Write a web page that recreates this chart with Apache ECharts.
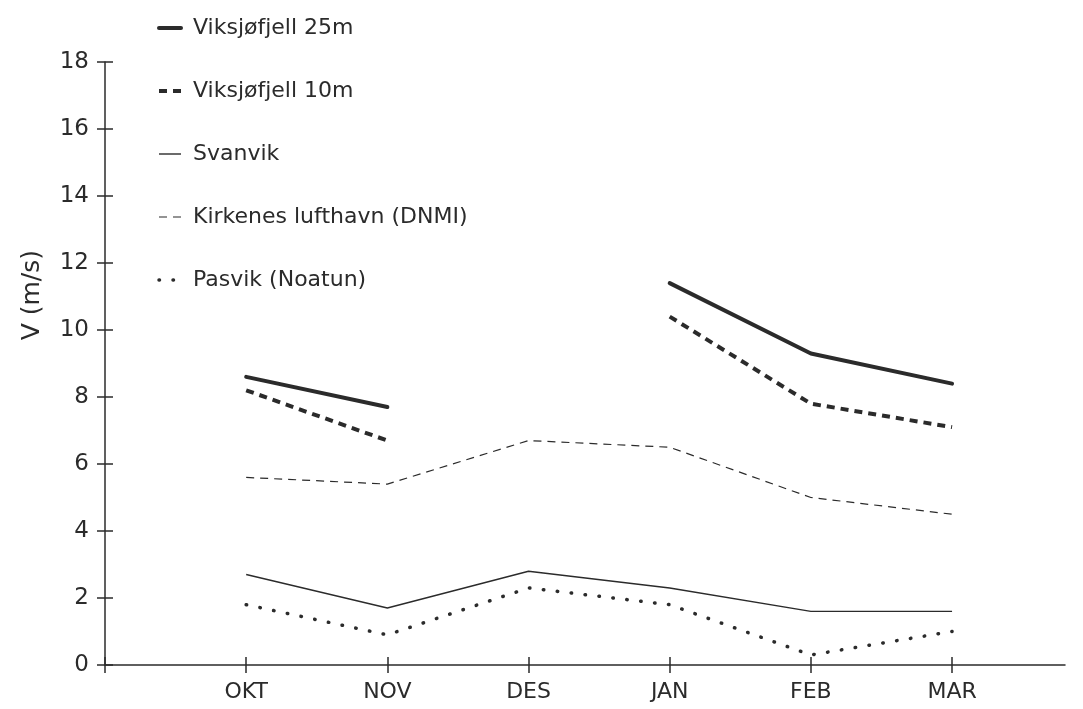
<!DOCTYPE html>
<html>
<head>
<meta charset="utf-8">
<script src="https://cdn.jsdelivr.net/npm/echarts@6/dist/echarts.min.js"></script>
<style>
  html, body { margin: 0; padding: 0; background: #fff; }
  #chart { width: 1083px; height: 709px; }
</style>
</head>
<body>
<div id="chart"></div>
<script>
// måneder (x = 1..6 på verdiaksen)
var months = ["OKT", "NOV", "DES", "JAN", "FEB", "MAR"];
var monthPos = [1, 2, 3, 4, 5, 6];
var yTicks = [0, 2, 4, 6, 8, 10, 12, 14, 16, 18];

// vindhastighet V (m/s)
var viks25 = [8.6, 7.7, null, 11.4, 9.3, 8.4];
var viks10 = [8.2, 6.7, null, 10.4, 7.8, 7.1];
var svanvik = [2.7, 1.7, 2.8, 2.3, 1.6, 1.6];
var kirkenes = [5.6, 5.4, 6.7, 6.5, 5.0, 4.5];
var pasvik = [1.8, 0.9, 2.3, 1.8, 0.3, 1.0];

var FONT = "DejaVu Sans";
var INK = "#2b2b2b";

// linjestiler: [bredde, type, cap]
var styles = {
  "Viksjøfjell 25m": [4, "solid", "round"],
  "Viksjøfjell 10m": [4, [8, 6], "butt"],
  "Svanvik": [1.4, "solid", "butt"],
  "Kirkenes lufthavn (DNMI)": [1.2, [8, 6], "butt"],
  "Pasvik (Noatun)": [3.5, [0.5, 13.5], "round"]
};

function pairs(vals) {
  return vals.map(function (v, i) { return [monthPos[i], v]; });
}

function lineStyleOf(name) {
  var s = styles[name];
  return { color: INK, width: s[0], type: s[1], cap: s[2] };
}

function line(name, vals) {
  return {
    name: name,
    type: "line",
    data: pairs(vals),
    symbol: "none",
    connectNulls: false,
    silent: true,
    color: INK,
    lineStyle: lineStyleOf(name)
  };
}

var chart = echarts.init(document.getElementById("chart"));

var xBase = { type: "value", min: 0, max: 6.8, interval: 1, splitLine: { show: false } };
var yBase = { type: "value", min: 0, max: 18, interval: 2, splitLine: { show: false } };

var legendNames = Object.keys(styles);

chart.setOption({
  backgroundColor: "#fff",
  animation: false,
  grid: { left: 105, right: 18, top: 62, bottom: 44 },
  legend: {
    orient: "vertical",
    left: 152,
    top: 11,
    itemWidth: 22,
    itemHeight: 14,
    itemGap: 39,
    selectedMode: false,
    itemStyle: { opacity: 0 },
    textStyle: { fontFamily: FONT, fontSize: 22, color: INK, lineHeight: 24, padding: [0, 0, 0, 7] },
    data: legendNames.map(function (n) {
      return { name: n, lineStyle: lineStyleOf(n), itemStyle: { opacity: 0 } };
    })
  },
  xAxis: [
    Object.assign({}, xBase, {
      axisLine: { lineStyle: { color: INK, width: 1.5 } },
      axisTick: { show: true, length: 8, customValues: [0].concat(monthPos), lineStyle: { color: INK, width: 1.5 } },
      axisLabel: {
        customValues: monthPos,
        margin: 16,
        fontFamily: FONT, fontSize: 22, color: INK,
        formatter: function (v) { return months[Math.round(v) - 1] || ""; }
      }
    }),
    Object.assign({}, xBase, {
      position: "bottom",
      axisLine: { show: false },
      axisTick: { show: true, inside: true, length: 8, customValues: [0].concat(monthPos), lineStyle: { color: INK, width: 1.5 } },
      axisLabel: { show: false }
    })
  ],
  yAxis: [
    Object.assign({}, yBase, {
      axisLine: { show: true, lineStyle: { color: INK, width: 1.5 } },
      axisTick: { show: true, length: 8, customValues: yTicks, lineStyle: { color: INK, width: 1.5 } },
      axisLabel: { customValues: yTicks, margin: 16, fontFamily: FONT, fontSize: 23, color: INK }
    }),
    Object.assign({}, yBase, {
      position: "left",
      axisLine: { show: false },
      axisTick: { show: true, inside: true, length: 8, customValues: yTicks, lineStyle: { color: INK, width: 1.5 } },
      axisLabel: { show: false }
    })
  ],
  graphic: [{
    type: "text",
    left: 20,
    top: 250,
    rotation: Math.PI / 2,
    style: { text: "V (m/s)", fontFamily: FONT, fontSize: 25, fill: INK }
  }],
  series: legendNames.map(function (n, i) {
    return line(n, [viks25, viks10, svanvik, kirkenes, pasvik][i]);
  })
});
</script>
</body>
</html>
